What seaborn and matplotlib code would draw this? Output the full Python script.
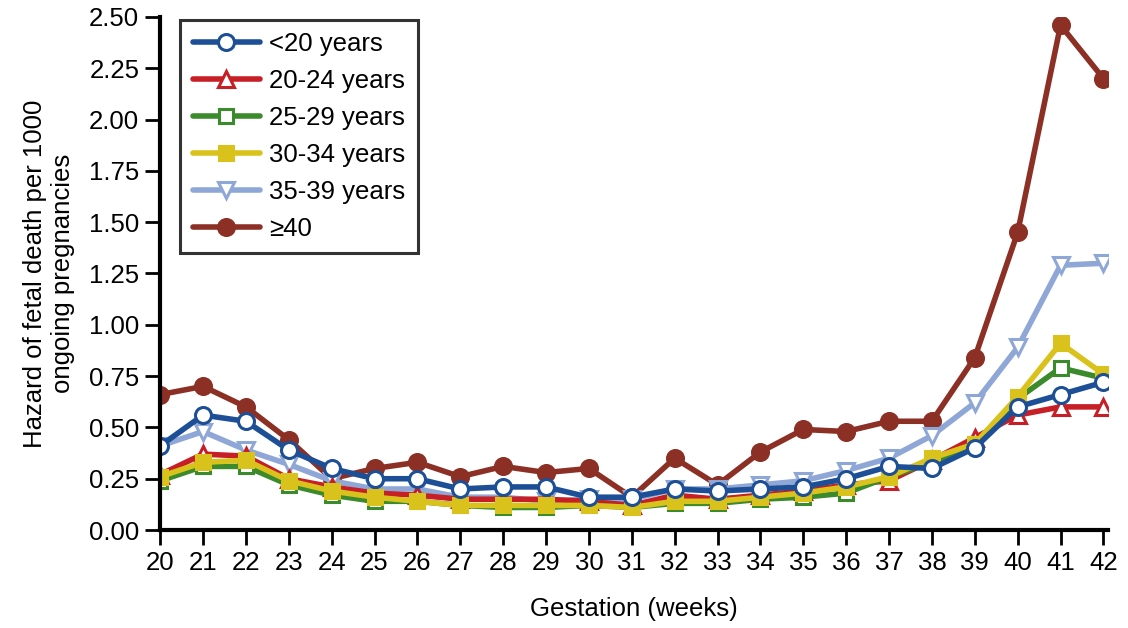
import numpy as np
import pandas as pd
import seaborn as sns
import matplotlib.pyplot as plt

# Gestation weeks and hazard of fetal death per 1000 ongoing pregnancies
weeks = list(range(20, 43))

under20 = [0.41, 0.56, 0.53, 0.39, 0.30, 0.25, 0.25, 0.20, 0.21, 0.21, 0.16, 0.16,
           0.20, 0.19, 0.20, 0.21, 0.25, 0.31, 0.30, 0.40, 0.60, 0.66, 0.72]
age20_24 = [0.27, 0.37, 0.36, 0.25, 0.21, 0.18, 0.17, 0.15, 0.15, 0.15, 0.14, 0.12,
            0.17, 0.15, 0.17, 0.19, 0.22, 0.24, 0.34, 0.45, 0.56, 0.60, 0.60]
age25_29 = [0.24, 0.31, 0.31, 0.22, 0.17, 0.14, 0.14, 0.12, 0.11, 0.11, 0.12, 0.11,
            0.13, 0.13, 0.15, 0.16, 0.18, 0.26, 0.33, 0.42, 0.64, 0.79, 0.74]
age30_34 = [0.26, 0.33, 0.34, 0.24, 0.19, 0.16, 0.14, 0.12, 0.12, 0.12, 0.12, 0.11,
            0.14, 0.14, 0.16, 0.18, 0.21, 0.26, 0.35, 0.42, 0.65, 0.91, 0.76]
age35_39 = [0.41, 0.48, 0.39, 0.32, 0.24, 0.20, 0.20, 0.16, 0.16, 0.14, 0.15, 0.15,
            0.20, 0.20, 0.22, 0.24, 0.29, 0.35, 0.46, 0.62, 0.89, 1.29, 1.30]
age40plus = [0.66, 0.70, 0.60, 0.44, 0.25, 0.30, 0.33, 0.26, 0.31, 0.28, 0.30, 0.16,
             0.35, 0.22, 0.38, 0.49, 0.48, 0.53, 0.53, 0.84, 1.45, 2.46, 2.20]

labels = ['<20 years', '20-24 years', '25-29 years', '30-34 years', '35-39 years', '≥40']
series = [under20, age20_24, age25_29, age30_34, age35_39, age40plus]
colors = ['#1d4f97', '#c61f26', '#3b8a2b', '#d9c21c', '#8ea7d6', '#8c2f24']
markers = ['o', '^', 's', 's', 'v', 'o']
filled = [False, False, False, True, False, True]

sns.set_style('ticks', {'axes.edgecolor': 'black', 'text.color': 'black',
                        'xtick.color': 'black', 'ytick.color': 'black',
                        'axes.labelcolor': 'black'})
plt.rcParams['font.family'] = ['Liberation Sans', 'DejaVu Sans']

fig = plt.figure(figsize=(11.28, 6.28), dpi=100)
ax = fig.add_axes([0.142, 0.156, 0.84, 0.817])

# draw order: oldest group at the back
order = [5, 4, 1, 2, 3, 0]
for i in order:
    df = pd.DataFrame({'week': weeks, 'hazard': series[i]})
    sns.lineplot(data=df, x='week', y='hazard', ax=ax, color=colors[i], linewidth=4,
                 marker=markers[i], markersize=11.5 if markers[i] != 's' else 10,
                 markerfacecolor=colors[i] if filled[i] else 'white',
                 markeredgecolor=colors[i], markeredgewidth=2.2, label=labels[i])

h, l = ax.get_legend_handles_labels()
lookup = dict(zip(l, h))
leg = ax.legend([lookup[k] for k in labels], labels, loc='upper left',
                bbox_to_anchor=(0.021, 0.995), fontsize=18.5, frameon=True, fancybox=False,
                handlelength=2.6, borderpad=0.5, labelspacing=0.5, handletextpad=0.35,
                borderaxespad=0.0)
leg.get_frame().set_edgecolor('black')
leg.get_frame().set_linewidth(2.2)

ax.set_xlim(20, 42.1)
ax.set_ylim(0, 2.5)
ax.set_xticks(weeks)
ax.set_yticks(np.arange(0, 2.51, 0.25))
ax.set_yticklabels([f'{v:.2f}' for v in np.arange(0, 2.51, 0.25)])
ax.tick_params(axis='both', labelsize=18.5, width=2, length=11, direction='out', pad=4)
sns.despine(ax=ax)
for s in ['left', 'bottom']:
    ax.spines[s].set_linewidth(3)
ax.set_xlabel('Gestation (weeks)', fontsize=18.5, labelpad=16)
ax.set_ylabel('Hazard of fetal death per 1000\nongoing pregnancies', fontsize=18.5, labelpad=10)

fig.savefig('out.png', dpi=100)
